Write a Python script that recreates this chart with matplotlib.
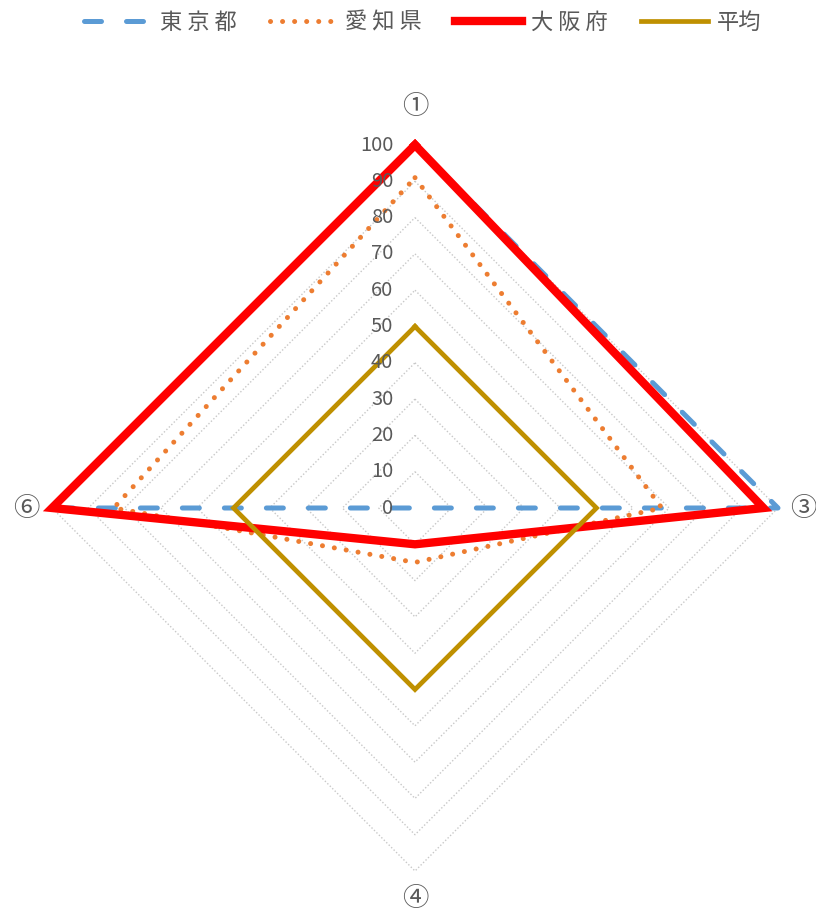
import numpy as np
import matplotlib
matplotlib.use("Agg")
import matplotlib.pyplot as plt
from matplotlib.lines import Line2D

plt.rcParams['font.family'] = ['Noto Sans CJK JP', 'DejaVu Sans']

categories = ['①', '③', '④', '⑥']
series_names = ['東 京 都', '愛 知 県', '大 阪 府', '平均']
tokyo = [100, 100, 0, 100]
aichi = [91, 68, 15, 83]
osaka = [100, 96, 10, 100]
average = [50, 50, 50, 50]
ticks = [0, 10, 20, 30, 40, 50, 60, 70, 80, 90, 100]

gray = '#595959'
angles = np.deg2rad([0, 90, 180, 270])


def xy(vals):
    v = np.array(list(vals) + [vals[0]], dtype=float)
    a = np.append(angles, angles[0])
    return v * np.sin(a), v * np.cos(a)


fig = plt.figure(figsize=(8.16, 9.16), dpi=100)
ax = fig.add_axes([0, 0, 1, 1])
sc = 3.63  # pixels per unit
ax.set_xlim(-415 / sc, (816 - 415) / sc)
ax.set_ylim(-(916 - 508) / sc, 508 / sc)
ax.axis('off')

# grid diamonds
for t in ticks[1:]:
    gx, gy = xy([t] * 4)
    ax.plot(gx, gy, color='#c8c8c8', lw=1.0, linestyle=(0, (1, 1.5)), zorder=1)

# tick labels
for t in ticks:
    ax.text(-6.0, t, str(t), ha='right', va='center', fontsize=14.5, color=gray, zorder=6)

# category labels
label_r = [110.5, 107, 107.6, 107]
for c, a, r in zip(categories, angles, label_r):
    ax.text(r * np.sin(a), r * np.cos(a), c, ha='center', va='center',
            fontsize=19, color=gray)

x, y = xy(tokyo)
ax.plot(x, y, color='#5b9bd5', lw=3.6, linestyle=(0, (3.4, 5.0)),
        dash_capstyle='round', zorder=3)
x, y = xy(aichi)
ax.plot(x, y, color='#ed7d31', lw=3.6, linestyle=(0, (0.01, 2.4)),
        dash_capstyle='round', zorder=3)
x, y = xy(osaka)
ax.plot(x, y, color='#ff0000', lw=6.0, solid_joinstyle='miter', zorder=4)
x, y = xy(average)
ax.plot(x, y, color='#bf9000', lw=3.4, solid_joinstyle='miter', zorder=5)

handles = [
    Line2D([], [], color='#5b9bd5', lw=3.6, linestyle=(0, (3.4, 5.0)), dash_capstyle='round'),
    Line2D([], [], color='#ed7d31', lw=3.6, linestyle=(0, (0.01, 2.4)), dash_capstyle='round'),
    Line2D([], [], color='#ff0000', lw=6.0),
    Line2D([], [], color='#bf9000', lw=3.4),
]
leg = fig.legend(handles, series_names, loc='center', bbox_to_anchor=(0.518, 0.976),
                 ncol=4, frameon=False, fontsize=16, handlelength=3.0,
                 handletextpad=0.4, columnspacing=1.5)
for txt in leg.get_texts():
    txt.set_color(gray)

fig.savefig('out.png', dpi=100)
